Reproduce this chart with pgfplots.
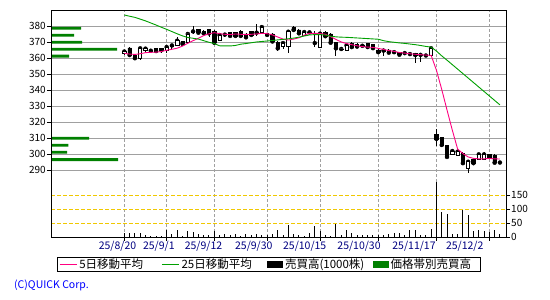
\documentclass[border=0pt]{standalone}
\usepackage{fontspec}
\setmainfont{Noto Sans CJK JP}
\usepackage{pgfplots}
\pgfplotsset{compat=1.18}
\usepackage{pgfplotstable}

\definecolor{maFive}{HTML}{FF0080}
\definecolor{maTwentyFive}{HTML}{00A000}
\definecolor{band}{HTML}{008000}
\definecolor{gridgray}{HTML}{A0A0A0}
\definecolor{gold}{HTML}{F0C800}
\definecolor{navy}{HTML}{000080}
\definecolor{copyblue}{HTML}{0000FF}

\pgfplotstableread{
i o h l c
0 363.0 364.5 362.0 364.2
1 366.5 367.0 361.5 362.0
2 361.5 362.0 359.5 360.0
3 360.0 366.5 359.0 366.2
4 364.8 366.5 363.5 366.0
5 364.5 365.5 363.0 364.7
6 366.2 366.5 364.0 364.5
7 366.0 366.5 363.0 365.0
8 365.0 367.5 363.5 367.0
9 367.5 369.0 366.0 368.0
10 368.0 373.0 367.5 371.0
11 370.5 371.0 368.5 369.0
12 369.7 375.5 369.0 375.2
13 376.3 380.0 375.0 376.8
14 378.1 378.5 375.5 376.0
15 377.0 377.5 375.0 375.6
16 378.0 378.3 373.0 375.6
17 377.0 377.5 369.5 369.7
18 371.5 375.0 371.0 374.5
19 374.7 376.0 373.5 374.8
20 376.0 376.5 373.5 374.0
21 376.0 376.5 373.5 374.0
22 377.0 377.5 373.0 374.0
23 375.2 375.5 372.0 373.1
24 376.6 377.0 374.0 374.6
25 375.8 381.4 374.0 376.0
26 376.3 380.8 375.5 379.5
27 375.5 376.0 374.0 374.6
28 375.2 375.5 369.5 370.5
29 370.0 370.5 364.7 366.2
30 367.5 370.0 366.0 369.5
31 367.7 377.0 363.1 376.6
32 379.4 380.0 377.0 377.7
33 377.7 378.2 375.0 375.6
34 374.6 377.0 374.3 376.4
35 376.0 376.8 375.3 376.2
36 369.2 377.0 367.0 369.5
37 367.0 376.0 366.5 375.4
38 376.2 376.8 373.5 373.8
39 375.2 375.6 369.3 369.7
40 369.7 370.0 361.2 366.2
41 365.6 366.5 364.5 365.8
42 365.0 368.5 364.5 368.0
43 369.5 370.0 366.5 367.0
44 368.8 369.3 366.5 367.3
45 367.6 368.5 366.8 367.8
46 369.4 369.6 366.5 367.0
47 368.5 369.0 365.8 366.3
48 365.2 365.5 362.5 363.8
49 364.5 365.5 361.5 364.8
50 365.2 365.6 363.0 363.5
51 363.6 364.5 362.8 363.8
52 363.8 364.2 361.5 362.2
53 363.0 364.0 362.0 363.2
54 362.4 363.5 361.5 362.6
55 363.1 363.5 357.2 362.0
56 361.9 363.0 357.8 362.1
57 361.5 362.5 360.5 361.7
58 361.5 367.0 361.0 366.2
59 312.4 315.5 305.0 309.5
60 310.2 310.8 305.0 305.7
61 305.2 305.8 297.8 298.2
62 300.0 302.2 299.6 301.9
63 299.5 302.0 299.0 301.5
64 300.5 301.0 293.0 294.3
65 291.1 296.0 288.0 295.2
66 296.7 297.0 294.0 294.3
67 296.7 300.0 296.5 299.8
68 296.8 301.5 296.5 299.8
69 299.8 300.3 297.5 298.2
70 299.4 299.8 294.4 294.6
71 294.5 295.3 294.5 294.7
}\ohlc

\pgfplotstableread{
i v
0 16
1 16
2 16
3 16
4 8.5
5 3
6 5
7 3
8 25
9 9
10 24
11 4
12 20
13 17
14 12
15 6
16 8.5
17 20
18 6
19 9.7
20 6
21 9.7
22 3
23 12
24 6
25 12
26 6
27 6
28 9.7
29 24
30 6
31 42
32 12
33 6
34 3
35 15.7
36 38.7
37 20.6
38 6
39 3
40 48.4
41 8.5
42 24
43 15.7
44 6
45 6
46 8.5
47 6
48 6
49 8.5
50 12
51 15.7
52 15.7
53 6
54 26.6
55 24
56 8.5
57 6
58 30
59 196
60 90.7
61 82.3
62 12
63 10
64 96.8
65 78.6
66 20.6
67 24
68 20.6
69 18
70 24
71 12
}\vol

\pgfplotstableread{
i ma5 ma25
0 363.1 387.1
1 362.6 386.3
2 362.4 385.6
3 362.8 384.5
4 363.5 383.4
5 363.7 382.1
6 363.8 380.8
7 364.2 379.4
8 365.0 378.1
9 365.6 376.7
10 366.3 375.3
11 367.6 374.0
12 369.4 373.0
13 371.0 372.5
14 372.5 372.0
15 374.2 371.0
16 375.3 370.0
17 376.0 369.2
18 375.4 367.8
19 375.0 367.7
20 374.8 367.7
21 375.2 368.0
22 375.0 368.8
23 374.8 369.2
24 375.0 369.7
25 375.2 370.2
26 375.6 370.5
27 375.4 370.8
28 374.6 371.1
29 373.3 371.5
30 372.0 371.8
31 371.4 372.2
32 372.0 372.6
33 372.8 373.2
34 374.4 373.9
35 375.6 374.6
36 375.6 374.8
37 375.5 374.8
38 375.0 374.5
39 373.5 373.8
40 371.8 373.4
41 370.2 373.2
42 369.2 373.1
43 368.5 372.9
44 367.8 372.7
45 367.3 372.5
46 367.0 372.3
47 366.8 372.1
48 366.2 371.9
49 365.5 371.0
50 364.8 370.4
51 364.3 370.0
52 363.6 369.6
53 363.2 369.3
54 362.8 368.9
55 362.5 368.5
56 362.2 368.0
57 362.0 367.4
58 361.8 367.0
59 352.5 364.5
60 340.5 361.5
61 327.6 358.8
62 315.0 356.0
63 303.2 353.2
64 300.3 350.4
65 298.2 347.6
66 297.3 344.8
67 297.0 342.0
68 297.0 339.2
69 297.3 336.4
70 297.0 333.6
71 296.9 330.8
}\ma

\pgfplotstableread{
p len
378.8 30
374.4 23
370.0 31
365.6 66
361.3 18
309.9 38
305.5 17.3
301.1 16
296.5 67
}\band

\pgfplotsset{
  /pgf/number format/assume math mode=true,
  base/.style={scale only axis, width=455pt, height=227pt, at={(51pt,63pt)},
    anchor=south west, xmin=-13.86, xmax=72.15, clip=true},
  price/.style={base, ymin=248.07, ymax=390.21},
}

\begin{document}
\begin{tikzpicture}
\useasboundingbox (0,0) rectangle (550pt,300pt);

% price grid, price tick labels, date grid
\begin{axis}[price,
  axis line style={draw=none},
  ytick={290,300,...,380}, ytick pos=left,
  xtick={0,8,17,27,37,48,59,69}, xtick pos=bottom, xticklabels={},
  ymajorgrids, xmajorgrids,
  major y grid style={gridgray, line width=0.9pt},
  major x grid style={gridgray, line width=0.9pt, dash pattern=on 3pt off 2pt},
  tick align=outside, major tick length=4pt,
  tick style={black, line width=0.8pt},
  yticklabel style={font=\fontsize{10}{10}\selectfont, inner xsep=1pt},
]
\addplot[draw=none] coordinates {(0,300)};
\end{axis}

% volume
\begin{axis}[base, ymin=0, ymax=816,
  axis line style={draw=none},
  ytick={0,50,100,150}, ytick pos=right, xtick=\empty,
  ymajorgrids,
  major y grid style={gold, line width=0.9pt, dash pattern=on 4pt off 2pt},
  tick align=outside, major tick length=4pt,
  tick style={black, line width=0.8pt},
  yticklabel style={font=\fontsize{10}{10}\selectfont, inner xsep=1pt},
]
\addplot[ycomb, black, line width=1pt, mark=none] table[x=i, y=v]{\vol};
\end{axis}

% volume by price band
\begin{axis}[scale only axis, width=455pt, height=227pt, at={(51pt,63pt)},
  anchor=south west, xmin=0, xmax=455, ymin=248.07, ymax=390.21,
  hide axis, xbar, bar width=1.8]
\addplot[fill=band, draw=none] table[x=len, y=p]{\band};
\end{axis}

% wicks
\begin{axis}[price, hide axis]
\addplot[only marks, mark=none,
  error bars/.cd, y dir=both, y explicit, error mark=none,
  error bar style={black, line width=0.9pt}]
  table[x=i, y=c, y error plus expr=\thisrow{h}-\thisrow{c},
        y error minus expr=\thisrow{c}-\thisrow{l}]{\ohlc};
\end{axis}

% bodies
\begin{axis}[price, hide axis, ybar stacked, bar width=0.62]
\addplot[draw=none, fill=none] table[x=i, y expr={min(\thisrow{o},\thisrow{c})}]{\ohlc};
\addplot[fill=black, draw=black, line width=0.7pt] table[x=i, y expr={max(\thisrow{o}-\thisrow{c},0)}]{\ohlc};
\addplot[fill=white, draw=black, line width=0.7pt] table[x=i, y expr={max(\thisrow{c}-\thisrow{o},0)}]{\ohlc};
\end{axis}

% moving averages, frame, dates, legend
\begin{axis}[price,
  axis line style={black, line width=0.8pt},
  ytick=\empty,
  xtick={-1.29,6.52,14.97,24.48,34.1,44.37,54.76,64.35},
  xticklabels={25/8/20,25/9/1,25/9/12,25/9/30,25/10/15,25/10/30,25/11/17,25/12/2},
  major tick length=0pt,
  xticklabel style={text=navy, font=\fontsize{10.5}{10.5}\selectfont, yshift=-1pt},
  legend columns=4,
  legend style={at={(0.0138,-0.0894)}, anchor=north west, draw=black,
    line width=0.8pt, font=\fontsize{11.5}{11.5}\selectfont,
    inner xsep=1.5pt, inner ysep=0pt,
    nodes={inner xsep=2.2pt, inner ysep=1.3pt},
    /tikz/every even column/.append style={column sep=0pt}},
  legend cell align=left,
]
\addplot[maFive, line width=0.9pt, mark=none] table[x=i, y=ma5]{\ma};
\addlegendentry{5日移動平均\hspace*{16pt}}
\addplot[maTwentyFive, line width=0.9pt, mark=none] table[x=i, y=ma25]{\ma};
\addlegendentry{25日移動平均\hspace*{13pt}}
\addlegendimage{legend image code/.code={\fill[black] (0pt,-3pt) rectangle (15pt,3pt);}}
\addlegendentry{売買高(1000株)\hspace*{6pt}}
\addlegendimage{legend image code/.code={\fill[band] (0pt,-3pt) rectangle (15pt,3pt);}}
\addlegendentry{価格帯別売買高\hspace*{6pt}}
\end{axis}

\node[anchor=west, inner sep=0pt, text=copyblue, font=\fontsize{10.5}{10.5}\selectfont] at (14pt,15pt) {(C)QUICK Corp.};
\end{tikzpicture}
\end{document}
